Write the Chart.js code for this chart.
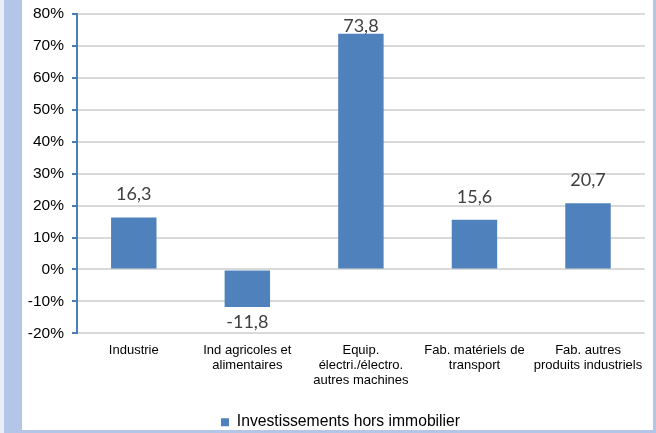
<!DOCTYPE html>
<html>
<head>
<meta charset="utf-8">
<script src="https://cdn.jsdelivr.net/npm/chart.js@4/dist/chart.umd.min.js"></script>
<style>
  html, body { margin: 0; padding: 0; background: #fff; }
  body { width: 656px; height: 433px; position: relative; overflow: hidden; }
  .edge { position: absolute; background: #b4c6e7; }
  #edgeOuter { left: 0; top: 0; width: 4px; height: 433px; background: #e9eef8; }
  #edgeLeft { left: 4px; top: 0; width: 18px; height: 433px; }
  #edgeBottom { left: 4px; top: 430px; width: 652px; height: 3px; }
  #edgeRight { left: 653px; top: 0; width: 3px; height: 433px; }
  #chartBox { position: absolute; left: 22px; top: 0; width: 631px; height: 430px; }
</style>
</head>
<body>
<div id="edgeOuter" class="edge"></div>
<div id="edgeLeft" class="edge"></div>
<div id="edgeBottom" class="edge"></div>
<div id="edgeRight" class="edge"></div>
<div id="chartBox"><canvas id="chart"></canvas></div>
<script>
const categories = [
  ["Industrie"],
  ["Ind agricoles et", "alimentaires"],
  ["Equip.", "électri./électro.", "autres machines"],
  ["Fab. matériels de", "transport"],
  ["Fab. autres", "produits industriels"],
];
const seriesName = "Investissements hors immobilier";
const investValues = [16.3, -11.8, 73.8, 15.6, 20.7];
const yMin = -20;
const yMax = 80;
const yStep = 10;

const barBlue = "#4f81bd";
const axisBlue = "#4a7ebb";
const fontArial = "'Liberation Sans', Arial, sans-serif";

// value labels above / below each bar, Excel style "16,3"
const valueLabels = {
  id: "valueLabels",
  afterLayout(chart) {
    // legend is a bit right of the canvas centre in the original
    chart.legend.left += 7;
    chart.legend.right += 7;
  },
  afterDatasetsDraw(chart) {
    const ctx = chart.ctx;
    const area = chart.chartArea;
    const meta = chart.getDatasetMeta(0);
    ctx.save();
    ctx.font = "18px Lato, 'Open Sans', sans-serif";
    ctx.fillStyle = "#404040";
    ctx.textAlign = "center";
    meta.data.forEach((bar, i) => {
      const v = investValues[i];
      const txt = v.toFixed(1).replace(".", ",");
      if (v >= 0) {
        ctx.textBaseline = "alphabetic";
        ctx.fillText(txt, bar.x, Math.max(bar.y - 17, area.top + 18));
      } else {
        ctx.textBaseline = "top";
        ctx.fillText(txt, bar.x, bar.y + 6);
      }
    });
    ctx.restore();
  },
};

new Chart(document.getElementById("chart"), {
  type: "bar",
  data: {
    labels: categories,
    datasets: [
      {
        label: seriesName,
        data: investValues,
        backgroundColor: barBlue,
        borderWidth: 0,
        categoryPercentage: 1,
        barPercentage: 0.4,
      },
    ],
  },
  options: {
    responsive: true,
    maintainAspectRatio: false,
    animation: false,
    layout: {
      // legend sits low, close to the frame
      padding: { top: 14, right: 8, bottom: -10, left: 0 },
    },
    plugins: {
      tooltip: { enabled: false },
      legend: {
        position: "bottom",
        labels: {
          boxWidth: 8,
          boxHeight: 8,
          padding: 8,
          color: "#000",
          font: { family: fontArial, size: 15.7 },
        },
      },
    },
    scales: {
      x: {
        grid: { display: false, drawTicks: false },
        border: { display: false },
        ticks: {
          color: "#000",
          padding: 10,
          maxRotation: 0,
          autoSkip: false,
          font: { family: fontArial, size: 13, lineHeight: 1.15 },
        },
        afterFit(scale) {
          scale.height = 73;
        },
      },
      y: {
        min: yMin,
        max: yMax,
        ticks: {
          stepSize: yStep,
          color: "#000",
          padding: 8,
          font: { family: fontArial, size: 15.5 },
          callback: (v) => v + "%",
        },
        grid: {
          color: "#d9d9d9",
          lineWidth: 2,
          tickColor: axisBlue,
          tickLength: 5,
          tickWidth: 2,
        },
        border: { color: axisBlue, width: 2 },
        afterFit(scale) {
          scale.width = 55;
          scale.paddingTop = 0;
          scale.paddingBottom = 0;
        },
      },
    },
  },
  plugins: [valueLabels],
});
</script>
</body>
</html>
